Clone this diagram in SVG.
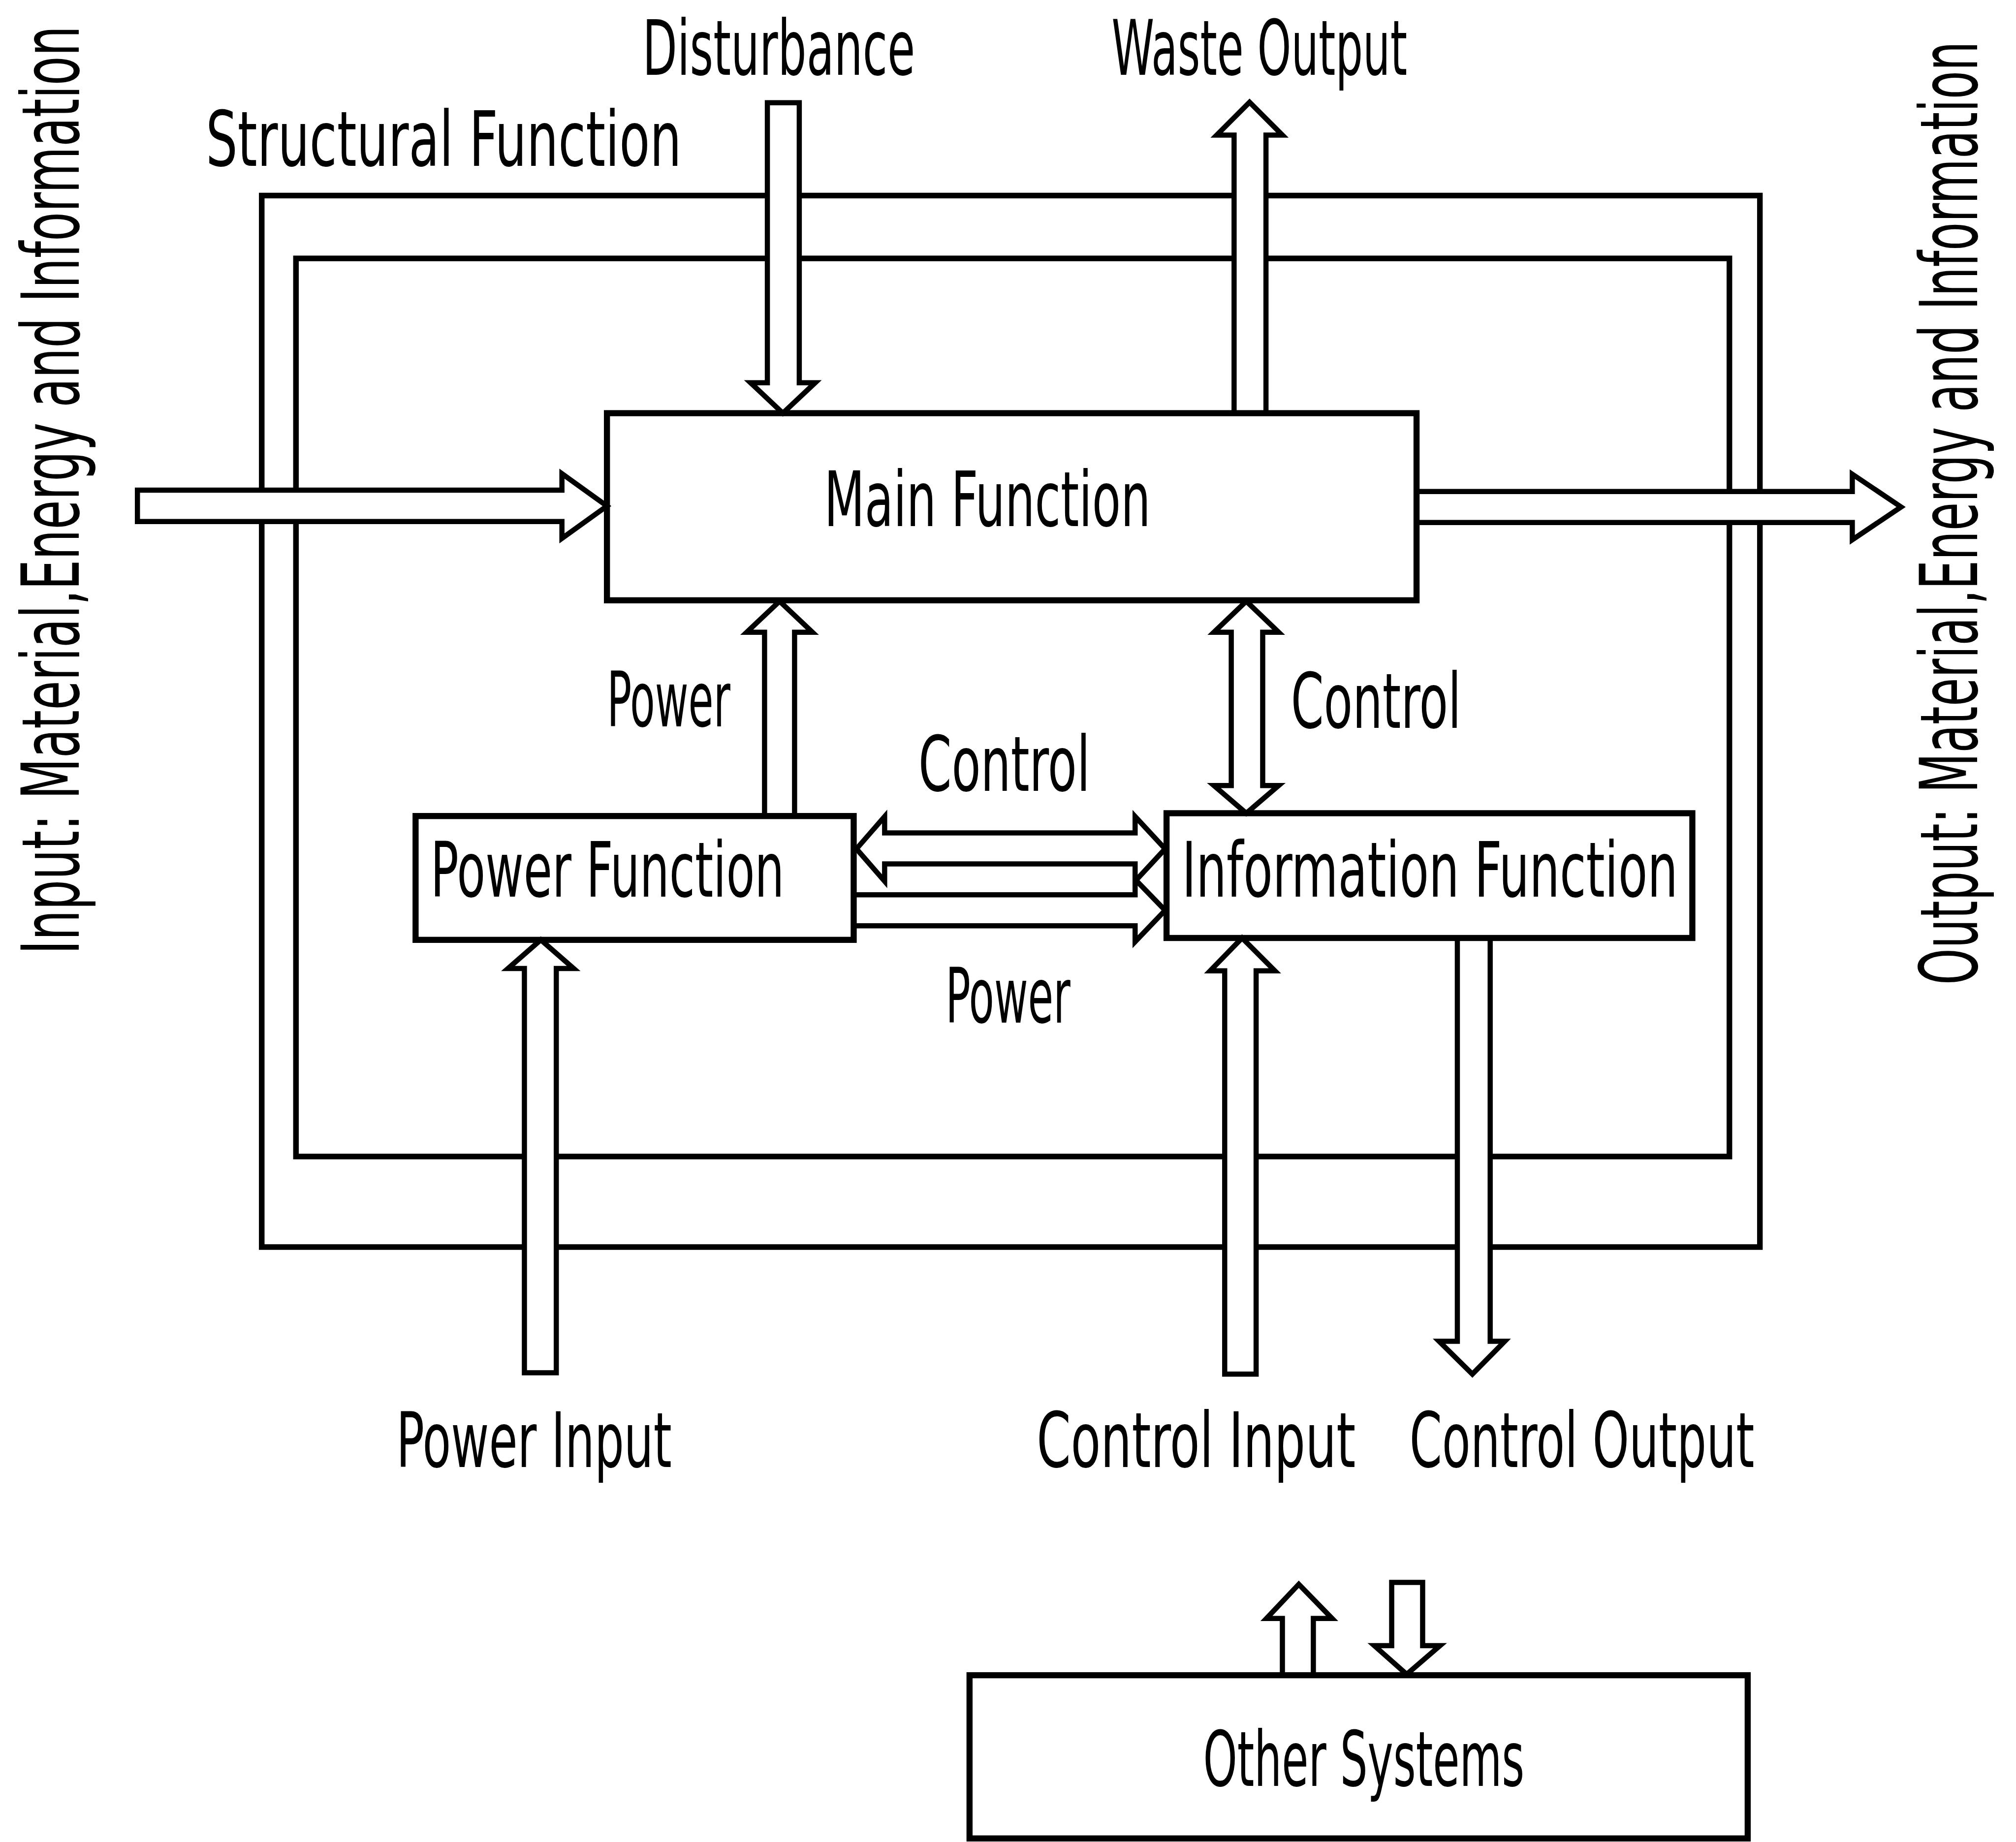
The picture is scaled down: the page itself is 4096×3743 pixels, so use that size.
<svg xmlns="http://www.w3.org/2000/svg" width="4096" height="3743" viewBox="0 0 4096 3743">
<style>
.box{fill:none;stroke:#000;stroke-width:13;stroke-linejoin:miter}
.frame{fill:none;stroke:#000;stroke-width:12}
.arr{fill:#fff;stroke:#000;stroke-width:11;stroke-linejoin:miter}
.t{font-family:"Liberation Sans Narrow","DejaVu Sans Condensed","Liberation Sans",sans-serif;font-size:162px;fill:#000}
.tv{font-family:"Liberation Sans Narrow","DejaVu Sans Condensed","Liberation Sans",sans-serif;font-size:170px;fill:#000}
</style>
<rect width="4096" height="3743" fill="#fff"/>
<g transform="scale(0.953)">
  <g id="structural-function">
    <rect class="frame" x="558" y="417" width="3194" height="2242"/>
    <rect class="frame" x="631" y="551" width="3056" height="1915"/>
    <text class="t" x="439" y="354" textLength="1014" lengthAdjust="spacingAndGlyphs">Structural Function</text>
  </g>
  <g id="connectors">
    <polygon id="input-arrow" class="arr" points="293,1045 1198,1045 1198,1010 1294,1079 1198,1148 1198,1112 293,1112"/>
    <polygon id="output-arrow" class="arr" points="3020,1048 3949,1048 3949,1011 4053,1081 3949,1151 3949,1114 3020,1114"/>
    <polygon id="disturbance-arrow" class="arr" points="1636,219 1704,219 1704,816 1738,816 1669,881 1600,816 1636,816"/>
    <polygon id="waste-arrow" class="arr" points="2631,881 2631,288 2594,288 2664,218 2734,288 2699,288 2699,881"/>
    <polygon id="power-main-arrow" class="arr" points="1630,1740 1630,1348 1592,1348 1662,1282 1732,1348 1694,1348 1694,1740"/>
    <polygon id="control-main-arrow" class="arr" points="2625,1348 2588,1348 2657,1282 2726,1348 2692,1348 2692,1675 2726,1675 2657,1734 2588,1675 2625,1675"/>
    <polygon id="control-horiz-arrow" class="arr" points="1886,1776 2420,1776 2420,1741 2484,1810 2420,1879 2420,1842 1886,1842 1886,1879 1826,1810 1886,1741"/>
    <polygon id="power-horiz-arrow" class="arr" points="1820,1908 2420,1908 2420,1875 2484,1941 2420,2008 2420,1974 1820,1974"/>
    <polygon id="power-input-arrow" class="arr" points="1118,2927 1118,2065 1083,2065 1153,2004 1223,2065 1186,2065 1186,2927"/>
    <polygon id="control-input-arrow" class="arr" points="2611,2930 2611,2070 2580,2070 2648,2000 2718,2070 2678,2070 2678,2930"/>
    <polygon id="control-output-arrow" class="arr" points="3107,2000 3177,2000 3177,2860 3208,2860 3139,2930 3068,2860 3107,2860"/>
    <polygon id="other-up-arrow" class="arr" points="2734,3572 2734,3451 2700,3451 2769,3378 2840,3451 2800,3451 2800,3572"/>
    <polygon id="other-down-arrow" class="arr" points="2967,3374 3033,3374 3033,3509 3070,3509 2999,3570 2930,3509 2967,3509"/>
  </g>
  <g id="main-function">
    <rect class="box" x="1294" y="881" width="1726" height="399"/>
    <text class="t" x="1757" y="1122" textLength="696" lengthAdjust="spacingAndGlyphs">Main Function</text>
  </g>
  <g id="power-function">
    <rect class="box" x="886" y="1740" width="934" height="264"/>
    <text class="t" x="918" y="1912" textLength="754" lengthAdjust="spacingAndGlyphs">Power Function</text>
  </g>
  <g id="information-function">
    <rect class="box" x="2487" y="1734" width="1121" height="266"/>
    <text class="t" x="2520" y="1912" textLength="1057" lengthAdjust="spacingAndGlyphs">Information Function</text>
  </g>
  <g id="other-systems">
    <rect class="box" x="2067" y="3572" width="1659" height="348"/>
    <text class="t" x="2565" y="3808" textLength="685" lengthAdjust="spacingAndGlyphs">Other Systems</text>
  </g>
  <g id="labels">
    <text class="t" x="1370" y="160" textLength="581" lengthAdjust="spacingAndGlyphs">Disturbance</text>
    <text class="t" x="2370" y="160" textLength="630" lengthAdjust="spacingAndGlyphs">Waste Output</text>
    <text class="t" x="1294" y="1549" textLength="263" lengthAdjust="spacingAndGlyphs">Power</text>
    <text class="t" x="2752" y="1552" textLength="363" lengthAdjust="spacingAndGlyphs">Control</text>
    <text class="t" x="1958" y="1686" textLength="366" lengthAdjust="spacingAndGlyphs">Control</text>
    <text class="t" x="2016" y="2180" textLength="266" lengthAdjust="spacingAndGlyphs">Power</text>
    <text class="t" x="845" y="3128" textLength="587" lengthAdjust="spacingAndGlyphs">Power Input</text>
    <text class="t" x="2210" y="3128" textLength="680" lengthAdjust="spacingAndGlyphs">Control Input</text>
    <text class="t" x="3005" y="3128" textLength="735" lengthAdjust="spacingAndGlyphs">Control Output</text>
    <text class="tv" transform="translate(168,2035) rotate(-90)" x="0" y="0" textLength="1980" lengthAdjust="spacingAndGlyphs">Input: Material,Energy and Information</text>
    <text class="tv" transform="translate(4215,2100) rotate(-90)" x="0" y="0" textLength="2012" lengthAdjust="spacingAndGlyphs">Output: Material,Energy and Information</text>
  </g>
</g>
</svg>
